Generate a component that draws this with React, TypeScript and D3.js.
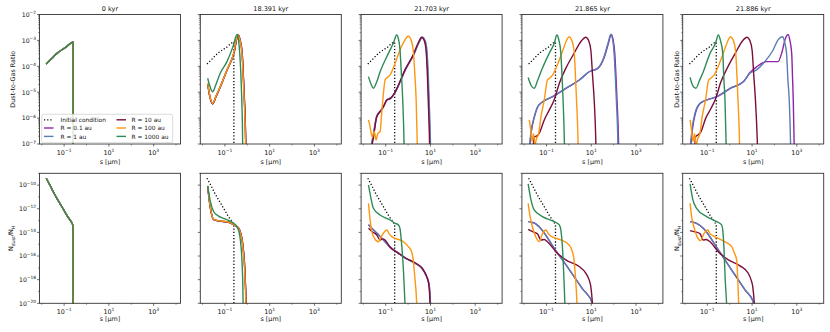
import React from 'react';
import * as d3 from 'd3';

type P = [number, number][]; // [log10 s (μm), log10 value]

const PANEL_TITLES = ['0 kyr', '18.391 kyr', '21.703 kyr', '21.865 kyr', '21.886 kyr'];
const SERIES_NAMES = ['Initial condition', 'R = 0.1 au', 'R = 1 au', 'R = 10 au', 'R = 100 au', 'R = 1000 au'];
const SERIES_COLORS = ['#000000', '#8e24aa', '#5b7db1', '#7b0d3c', '#ff960f', '#2e8b57'];

const X_MAJOR = [-1, 1, 3];
const X_MINOR = [-2, 0, 2, 4];
const TOP_Y_MAJOR = [-7, -6, -5, -4, -3, -2];
const BOT_Y_MAJOR = [-20, -18, -16, -14, -12, -10];
const BOT_Y_MINOR = [-19, -17, -15, -13, -11, -9];

// ---- initial condition ----
const initTop: P = [[-1.8, -3.91], [-1.62, -3.76], [-1.32, -3.5], [-0.95, -3.28], [-0.6, -3.07], [-0.599, -8]];
const initBot: P = [[-1.8, -9.42], [-1.62, -10.05], [-1.475, -10.6], [-1.1, -11.83], [-0.85, -12.65], [-0.6, -13.45], [-0.599, -21]];

// ---- 18.391 kyr ----
const p2TopGreen: P = [[-1.77, -4.46], [-1.66, -4.8], [-1.55, -4.98], [-1.4, -4.7], [-1.21, -4.27], [-0.91, -3.82], [-0.64, -3.24], [-0.46, -2.77], [-0.4, -2.95], [-0.33, -3.6], [-0.27, -4.7], [-0.22, -6.2], [-0.19, -8]];
const p2TopOrange: P = [[-1.77, -4.66], [-1.66, -5.2], [-1.55, -5.43], [-1.4, -5.15], [-1.21, -4.79], [-0.91, -4.14], [-0.61, -3.5], [-0.42, -2.77], [-0.33, -3.0], [-0.24, -3.5], [-0.17, -4.7], [-0.1, -6.2], [-0.05, -8]];
const p2TopInner: P = [[-1.77, -4.68], [-1.66, -5.22], [-1.55, -5.45], [-1.4, -5.17], [-1.21, -4.8], [-0.91, -4.15], [-0.6, -3.5], [-0.41, -2.78], [-0.32, -3.0], [-0.23, -3.5], [-0.16, -4.7], [-0.09, -6.2], [-0.04, -8]];
const p2BotGreen: P = [[-1.77, -10.07], [-1.65, -11.4], [-1.5, -12.25], [-1.3, -12.6], [-1.06, -12.81], [-0.61, -13.23], [-0.46, -13.52], [-0.38, -13.9], [-0.31, -14.64], [-0.24, -16.33], [-0.2, -18.5], [-0.18, -21]];
const p2BotOrange: P = [[-1.77, -10.07], [-1.65, -11.9], [-1.5, -12.9], [-1.21, -13.03], [-0.91, -13.09], [-0.53, -13.43], [-0.39, -13.65], [-0.3, -14.1], [-0.24, -14.64], [-0.12, -17.18], [-0.06, -20], [-0.04, -21]];
const p2BotInner: P = [[-1.77, -10.08], [-1.65, -11.92], [-1.5, -12.92], [-1.21, -13.05], [-0.91, -13.1], [-0.53, -13.44], [-0.38, -13.66], [-0.29, -14.1], [-0.23, -14.64], [-0.11, -17.18], [-0.05, -20], [-0.03, -21]];

// ---- 21.703 kyr ----
const p3TopGreen: P = [[-1.77, -4.4], [-1.65, -4.7], [-1.55, -4.85], [-1.4, -4.6], [-1.25, -4.21], [-0.88, -3.5], [-0.66, -3.11], [-0.51, -2.79], [-0.43, -2.95], [-0.36, -3.37], [-0.3, -4.3], [-0.24, -5.3], [-0.18, -7], [-0.16, -8]];
const p3TopOrange: P = [[-1.77, -6.07], [-1.7, -6.33], [-1.6, -6.74], [-1.51, -6.52], [-1.43, -6.85], [-1.35, -6.59], [-1.25, -6.52], [-1.18, -5.81], [-1.1, -5.04], [-1.03, -4.53], [-0.95, -4.45], [-0.81, -4.34], [-0.58, -3.88], [-0.36, -3.37], [-0.15, -3.0], [0.01, -2.83], [0.12, -2.95], [0.23, -3.37], [0.3, -4.3], [0.36, -5.3], [0.41, -7], [0.43, -8]];
const p3TopMaroon: P = [[-1.65, -7.2], [-1.55, -6.75], [-1.4, -5.95], [-1.2, -5.7], [-1.1, -5.56], [-0.95, -5.3], [-0.8, -5.25], [-0.66, -5.11], [-0.43, -4.72], [-0.14, -4.14], [0.23, -3.56], [0.45, -3.1], [0.61, -2.88], [0.72, -3.0], [0.8, -3.37], [0.86, -4.3], [0.9, -5.3], [0.96, -7], [0.98, -8]];
const p3TopBlue: P = [[-1.68, -7.2], [-1.57, -6.7], [-1.4, -5.92], [-1.2, -5.68], [-1.08, -5.52], [-0.93, -5.28], [-0.78, -5.22], [-0.63, -5.07], [-0.4, -4.68], [-0.1, -4.1], [0.27, -3.52], [0.49, -3.08], [0.65, -2.88], [0.76, -3.0], [0.84, -3.37], [0.9, -4.3], [0.94, -5.3], [1.0, -7], [1.02, -8]];
const p3TopPurple: P = [[-1.67, -7.2], [-1.56, -6.72], [-1.4, -5.93], [-1.2, -5.69], [-1.09, -5.54], [-0.94, -5.29], [-0.79, -5.23], [-0.64, -5.09], [-0.41, -4.7], [-0.12, -4.12], [0.25, -3.54], [0.47, -3.09], [0.63, -2.88], [0.74, -3.0], [0.82, -3.37], [0.88, -4.3], [0.92, -5.3], [0.98, -7], [1.0, -8]];
const p3BotGreen: P = [[-1.77, -9.99], [-1.65, -11.2], [-1.55, -11.96], [-1.25, -12.53], [-0.81, -12.95], [-0.58, -13.23], [-0.43, -13.37], [-0.36, -13.7], [-0.28, -15.2], [-0.2, -17.5], [-0.14, -20], [-0.12, -21]];
const p3BotOrange: P = [[-1.77, -11.54], [-1.7, -12.9], [-1.62, -13.94], [-1.5, -14.5], [-1.33, -14.79], [-1.15, -14.2], [-0.95, -13.8], [-0.85, -14.1], [-0.73, -14.36], [-0.21, -14.79], [0.01, -15.2], [0.15, -15.6], [0.23, -16.33], [0.3, -17.8], [0.36, -19.15], [0.41, -21]];
const p3BotMaroon: P = [[-1.77, -13.65], [-1.6, -13.95], [-1.4, -14.22], [-1.25, -14.64], [-1.15, -14.55], [-1.03, -14.64], [-0.81, -15.26], [-0.43, -15.77], [-0.1, -16.19], [0.35, -16.61], [0.64, -17.04], [0.8, -17.6], [0.92, -18.31], [0.98, -20], [1.0, -21]];
const p3BotBlue: P = [[-1.77, -13.35], [-1.6, -13.7], [-1.4, -14.05], [-1.2, -14.45], [-1.0, -14.85], [-0.81, -15.22], [-0.43, -15.75], [-0.1, -16.2], [0.35, -16.65], [0.64, -17.1], [0.82, -17.7], [0.95, -18.6], [1.0, -20], [1.03, -21]];

// ---- 21.865 kyr ----
const p4TopGreen: P = [[-1.82, -4.43], [-1.68, -4.75], [-1.55, -4.85], [-1.4, -4.55], [-1.25, -4.21], [-0.88, -3.5], [-0.65, -3.1], [-0.54, -2.79], [-0.45, -2.98], [-0.36, -3.5], [-0.3, -4.5], [-0.26, -5.3], [-0.2, -7], [-0.18, -8]];
const p4TopOrange: P = [[-1.77, -6.07], [-1.7, -6.5], [-1.65, -6.9], [-1.58, -6.6], [-1.52, -7.05], [-1.45, -6.8], [-1.35, -6.6], [-1.25, -5.95], [-1.1, -5.3], [-0.96, -4.53], [-0.85, -4.45], [-0.73, -4.34], [-0.43, -3.76], [-0.21, -3.24], [-0.08, -2.95], [0.01, -2.86], [0.12, -2.98], [0.23, -3.37], [0.3, -4.5], [0.34, -5.3], [0.41, -7], [0.43, -8]];
const p4TopMaroon: P = [[-1.6, -7.2], [-1.55, -6.72], [-1.45, -6.7], [-1.33, -6.59], [-1.1, -6.07], [-0.88, -5.69], [-0.66, -5.3], [-0.43, -4.66], [-0.14, -4.08], [0.23, -3.5], [0.53, -3.05], [0.76, -2.88], [0.88, -3.0], [0.98, -3.37], [1.06, -4.4], [1.13, -5.3], [1.2, -6.8], [1.23, -8]];
const p4TopBlue: P = [[-1.78, -7.3], [-1.7, -6.59], [-1.55, -5.95], [-1.4, -5.56], [-1.18, -5.37], [-0.73, -5.17], [-0.14, -4.85], [0.46, -4.53], [0.9, -4.21], [1.28, -4.08], [1.57, -3.63], [1.75, -3.1], [1.87, -2.77], [1.95, -2.95], [2.02, -3.5], [2.08, -4.5], [2.12, -5.3], [2.19, -7], [2.21, -8]];
const p4TopPurple: P = [[-1.77, -7.3], [-1.69, -6.59], [-1.54, -5.95], [-1.39, -5.56], [-1.17, -5.37], [-0.72, -5.17], [-0.13, -4.85], [0.47, -4.53], [0.91, -4.21], [1.29, -4.08], [1.59, -3.63], [1.77, -3.1], [1.89, -2.77], [1.97, -2.95], [2.05, -3.5], [2.11, -4.5], [2.15, -5.3], [2.22, -7], [2.24, -8]];
const p4BotGreen: P = [[-1.82, -9.9], [-1.7, -11.2], [-1.55, -12.1], [-1.18, -12.67], [-0.66, -13.09], [-0.43, -13.37], [-0.36, -13.8], [-0.29, -15.2], [-0.22, -18], [-0.18, -20], [-0.16, -21]];
const p4BotOrange: P = [[-1.82, -11.54], [-1.72, -12.8], [-1.63, -13.52], [-1.45, -14.5], [-1.33, -14.79], [-1.18, -14.1], [-1.03, -13.8], [-0.92, -14.1], [-0.81, -14.3], [-0.36, -14.64], [0.01, -15.07], [0.15, -15.6], [0.23, -16.33], [0.3, -18], [0.34, -19.15], [0.38, -21]];
const p4BotMaroon: P = [[-1.82, -13.74], [-1.6, -13.95], [-1.4, -14.14], [-1.25, -14.64], [-1.1, -14.6], [-0.96, -14.79], [-0.58, -15.63], [-0.14, -16.33], [0.46, -16.89], [0.76, -17.46], [0.9, -18.0], [0.98, -18.59], [1.05, -20], [1.08, -21]];
const p4BotBlue: P = [[-1.82, -13.09], [-1.65, -13.15], [-1.55, -13.2], [-1.33, -13.52], [-0.58, -15.56], [0.0, -17.1], [0.6, -18.75], [1.05, -20], [1.1, -21]];

// ---- 21.886 kyr ----
const p5TopGreen: P = [[-1.77, -4.43], [-1.65, -4.75], [-1.51, -4.85], [-1.35, -4.55], [-1.18, -4.21], [-0.88, -3.5], [-0.63, -3.1], [-0.51, -2.79], [-0.42, -2.98], [-0.31, -3.5], [-0.26, -4.5], [-0.21, -5.3], [-0.16, -7], [-0.14, -8]];
const p5TopOrange: P = [[-1.77, -6.07], [-1.7, -6.5], [-1.64, -6.9], [-1.57, -6.6], [-1.5, -7.05], [-1.43, -6.8], [-1.33, -6.6], [-1.23, -5.95], [-1.08, -5.3], [-0.94, -4.53], [-0.83, -4.45], [-0.7, -4.34], [-0.4, -3.76], [-0.18, -3.24], [-0.05, -2.95], [0.04, -2.86], [0.15, -2.98], [0.26, -3.37], [0.33, -4.5], [0.37, -5.3], [0.44, -7], [0.46, -8]];
const p5TopMaroon: P = [[-1.57, -7.2], [-1.52, -6.72], [-1.42, -6.65], [-1.3, -6.55], [-1.07, -6.0], [-0.85, -5.65], [-0.63, -5.25], [-0.4, -4.62], [-0.1, -4.05], [0.26, -3.48], [0.56, -3.03], [0.78, -2.88], [0.9, -3.0], [1.0, -3.37], [1.08, -4.4], [1.15, -5.3], [1.23, -6.8], [1.27, -8]];
const p5TopBlue: P = [[-1.78, -7.3], [-1.68, -6.4], [-1.55, -5.81], [-1.33, -5.43], [-1.03, -5.3], [-0.58, -5.17], [0.01, -4.85], [0.61, -4.6], [0.9, -4.27], [1.2, -4.14], [1.57, -3.82], [1.94, -3.37], [2.16, -2.98], [2.36, -2.86], [2.45, -3.05], [2.54, -3.5], [2.6, -4.5], [2.66, -5.3], [2.72, -7], [2.74, -8]];
const p5TopPurple: P = [[-1.76, -7.3], [-1.66, -6.4], [-1.53, -5.81], [-1.31, -5.43], [-1.01, -5.3], [-0.56, -5.17], [0.03, -4.85], [0.63, -4.58], [0.9, -4.25], [1.2, -4.02], [1.65, -3.82], [1.94, -3.82], [2.16, -3.82], [2.32, -3.5], [2.5, -2.9], [2.61, -2.77], [2.7, -3.05], [2.77, -3.5], [2.81, -4.5], [2.84, -5.3], [2.88, -7], [2.9, -8]];
const p5BotGreen: P = [[-1.77, -9.9], [-1.65, -11.2], [-1.48, -11.96], [-1.03, -12.67], [-0.58, -13.09], [-0.36, -13.37], [-0.31, -13.8], [-0.26, -15.2], [-0.2, -18], [-0.14, -20], [-0.12, -21]];
const p5BotOrange: P = [[-1.77, -11.54], [-1.69, -12.8], [-1.6, -13.52], [-1.42, -14.5], [-1.3, -14.7], [-1.15, -14.1], [-0.98, -13.8], [-0.88, -14.1], [-0.73, -14.3], [-0.29, -14.72], [0.09, -15.2], [0.2, -15.7], [0.31, -16.33], [0.36, -18], [0.39, -19.5], [0.42, -21]];
const p5BotMaroon: P = [[-1.77, -13.85], [-1.55, -13.95], [-1.33, -14.1], [-1.18, -14.64], [-1.05, -14.6], [-0.88, -14.79], [-0.51, -15.63], [-0.06, -16.33], [0.46, -16.83], [0.83, -17.46], [0.95, -18.0], [1.03, -18.59], [1.1, -20], [1.13, -21]];
const p5BotBlue: P = [[-1.77, -13.09], [-1.6, -13.15], [-1.48, -13.23], [-1.18, -13.65], [-0.5, -15.5], [0.2, -17.5], [0.7, -18.9], [1.05, -19.86], [1.1, -21]];

// series order per panel: [initial, 0.1 au, 1 au, 10 au, 100 au, 1000 au]
const TOP_PANELS: P[][] = [
  [initTop, initTop, initTop, initTop, initTop, initTop],
  [initTop, p2TopInner, p2TopInner, p2TopInner, p2TopOrange, p2TopGreen],
  [initTop, p3TopPurple, p3TopBlue, p3TopMaroon, p3TopOrange, p3TopGreen],
  [initTop, p4TopPurple, p4TopBlue, p4TopMaroon, p4TopOrange, p4TopGreen],
  [initTop, p5TopPurple, p5TopBlue, p5TopMaroon, p5TopOrange, p5TopGreen],
];
const BOT_PANELS: P[][] = [
  [initBot, initBot, initBot, initBot, initBot, initBot],
  [initBot, p2BotInner, p2BotInner, p2BotInner, p2BotOrange, p2BotGreen],
  [initBot, p3BotBlue, p3BotBlue, p3BotMaroon, p3BotOrange, p3BotGreen],
  [initBot, p4BotBlue, p4BotBlue, p4BotMaroon, p4BotOrange, p4BotGreen],
  [initBot, p5BotBlue, p5BotBlue, p5BotMaroon, p5BotOrange, p5BotGreen],
];

const W = 830, H = 332;
const PW = 141;
const LEFTS = [0, 1, 2, 3, 4].map((i) => 39.5 + i * 160.8);
const TOP_ROW = { y0: 14.5, y1: 144 };
const BOT_ROW = { y0: 173.3, y1: 303.3 };
const FONT = 'DejaVu Sans, sans-serif';
const AX = '#333';

function Pow10({ x, y, e, anchor, size = 6.4 }: { x: number; y: number; e: number; anchor: string; size?: number }) {
  return (
    <text x={x} y={y} textAnchor={anchor as any} fontSize={size} fontFamily={FONT} fill="#111">
      10<tspan dy={-2.8} fontSize={size * 0.7}>{e < 0 ? '\u2212' + Math.abs(e) : String(e)}</tspan>
    </text>
  );
}

function Panel({ idx, row }: { idx: number; row: 'top' | 'bot' }) {
  const left = LEFTS[idx];
  const R = row === 'top' ? TOP_ROW : BOT_ROW;
  const x = d3.scaleLog().domain([Math.pow(10, -2.1), Math.pow(10, 4.2)]).range([left, left + PW]);
  const y = row === 'top'
    ? d3.scaleLog().domain([1e-7, 1e-2]).range([R.y1, R.y0])
    : d3.scaleLog().domain([1e-20, 1e-9]).range([R.y1, R.y0]);
  const line = d3.line<[number, number]>()
    .x((d) => x(Math.pow(10, d[0])))
    .y((d) => y(Math.pow(10, d[1])))
    .curve(d3.curveMonotoneX);
  const series = row === 'top' ? TOP_PANELS[idx] : BOT_PANELS[idx];
  const clipId = `clip-${row}-${idx}`;
  const yMajor = row === 'top' ? TOP_Y_MAJOR : BOT_Y_MAJOR;
  const yMinorVals: number[] = [];
  if (row === 'top') {
    for (let dcd = -7; dcd < -2; dcd++) for (let k = 2; k <= 9; k++) yMinorVals.push(k * Math.pow(10, dcd));
  } else {
    BOT_Y_MINOR.forEach((e) => yMinorVals.push(Math.pow(10, e)));
  }
  const showYLabels = idx === 0;
  const showYTitle = idx === 0 || idx === 4;
  const xLabelY = row === 'top' ? 163.5 : 321;
  const xTickY = row === 'top' ? 154.5 : 313.5;
  const yMid = (R.y0 + R.y1) / 2;
  const yTitleX = idx === 0 ? (row === 'top' ? 14.5 : 13) : left - 3.5;

  return (
    <g>
      <defs>
        <clipPath id={clipId}>
          <rect x={left} y={R.y0} width={PW} height={R.y1 - R.y0} />
        </clipPath>
      </defs>
      <g clipPath={`url(#${clipId})`}>
        {series.map((pts, si) => {
          const off = si === 1 ? 0 : 0;
          return (
            <path
              key={si}
              d={line(pts) || ''}
              fill="none"
              stroke={SERIES_COLORS[si]}
              strokeWidth={si === 0 ? 1.3 : 1.4}
              strokeDasharray={si === 0 ? '1.2,2' : undefined}
              transform={`translate(${off},0)`}
            />
          );
        })}
      </g>
      {/* spines */}
      <rect x={left} y={R.y0} width={PW} height={R.y1 - R.y0} fill="none" stroke={AX} strokeWidth={0.9} />
      {/* x ticks */}
      {X_MAJOR.map((e) => (
        <g key={'xm' + e}>
          <line x1={x(Math.pow(10, e))} x2={x(Math.pow(10, e))} y1={R.y1} y2={R.y1 + 2.5} stroke={AX} strokeWidth={0.7} />
          <Pow10 x={x(Math.pow(10, e))} y={xTickY} e={e} anchor="middle" />
        </g>
      ))}
      {X_MINOR.map((e) => (
        <line key={'xn' + e} x1={x(Math.pow(10, e))} x2={x(Math.pow(10, e))} y1={R.y1} y2={R.y1 + 1.5} stroke={AX} strokeWidth={0.5} />
      ))}
      {/* y ticks */}
      {yMajor.map((e) => (
        <g key={'ym' + e}>
          <line x1={left - 2.5} x2={left} y1={y(Math.pow(10, e))} y2={y(Math.pow(10, e))} stroke={AX} strokeWidth={0.7} />
          {showYLabels && <Pow10 x={left - 3.5} y={y(Math.pow(10, e)) + 2.3} e={e} anchor="end" size={6.2} />}
        </g>
      ))}
      {yMinorVals.map((v, i) => (
        <line key={'yn' + i} x1={left - 1.5} x2={left} y1={y(v)} y2={y(v)} stroke={AX} strokeWidth={0.5} />
      ))}
      {/* title */}
      {row === 'top' && (
        <text x={left + PW / 2} y={11} textAnchor="middle" fontSize={6.5} fontFamily={FONT} fill="#111">
          {PANEL_TITLES[idx]}
        </text>
      )}
      {/* x label */}
      <text x={left + PW / 2} y={xLabelY} textAnchor="middle" fontSize={6.4} fontFamily={FONT} fill="#111">
        s [μm]
      </text>
      {/* y label */}
      {showYTitle && row === 'top' && (
        <text transform={`translate(${yTitleX},${yMid}) rotate(-90)`} textAnchor="middle" fontSize={6.4} fontFamily={FONT} fill="#111">
          Dust-to-Gas Ratio
        </text>
      )}
      {showYTitle && row === 'bot' && (
        <text transform={`translate(${yTitleX},${yMid}) rotate(-90)`} textAnchor="middle" fontSize={6.4} fontFamily={FONT} fill="#111">
          N<tspan dy={1.5} fontSize={4.6}>dust</tspan>
          <tspan dy={-1.5}>/N</tspan>
          <tspan dy={1.5} fontSize={4.6}>H</tspan>
        </text>
      )}
    </g>
  );
}

function Legend() {
  const bx = 41.7, by = 114.3, bw = 131, bh = 28.4;
  const rows = [119.8, 128.0, 136.4];
  const cols = [{ h0: 44, h1: 53.5, t: 60.5 }, { h0: 116.5, h1: 126, t: 131.5 }];
  return (
    <g>
      <rect x={bx} y={by} width={bw} height={bh} rx={1.5} fill="#fff" fillOpacity={0.85} stroke="#ccc" strokeWidth={0.7} />
      {SERIES_NAMES.map((name, i) => {
        const c = cols[Math.floor(i / 3)];
        const ry = rows[i % 3];
        return (
          <g key={name}>
            <line x1={c.h0} x2={c.h1} y1={ry} y2={ry} stroke={SERIES_COLORS[i]} strokeWidth={i === 0 ? 1.3 : 1.4} strokeDasharray={i === 0 ? '1.2,2' : undefined} />
            <text x={c.t} y={ry + 2.1} fontSize={5.9} fontFamily={FONT} fill="#111">{name}</text>
          </g>
        );
      })}
    </g>
  );
}

export default function App() {
  return (
    <svg width={W} height={H} viewBox={`0 0 ${W} ${H}`} style={{ position: 'absolute', left: 0, top: 0, background: '#fff' }}>
      <rect x={0} y={0} width={W} height={H} fill="#fff" />
      {[0, 1, 2, 3, 4].map((i) => (
        <Panel key={'t' + i} idx={i} row="top" />
      ))}
      {[0, 1, 2, 3, 4].map((i) => (
        <Panel key={'b' + i} idx={i} row="bot" />
      ))}
      <Legend />
    </svg>
  );
}
